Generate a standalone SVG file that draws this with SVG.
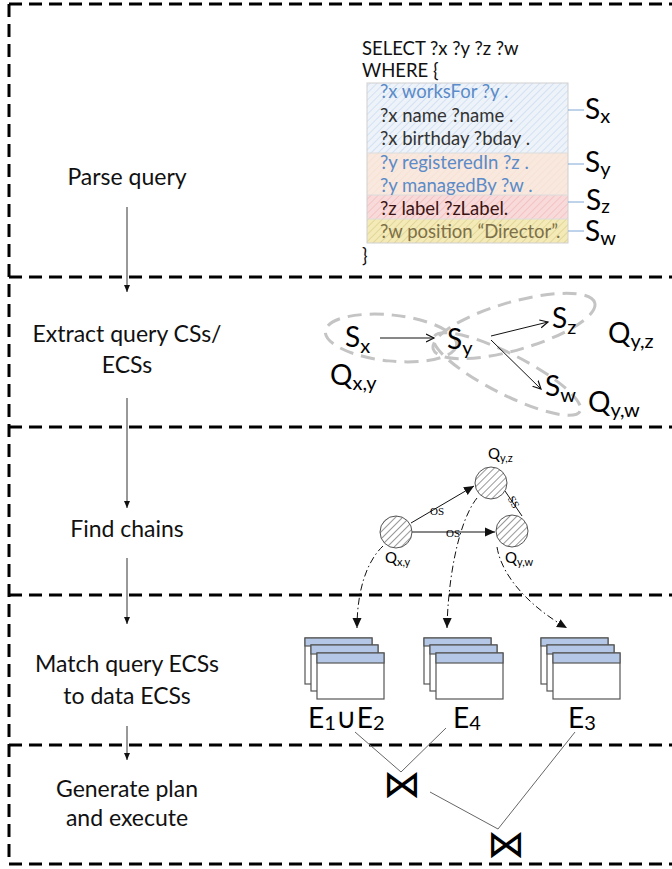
<svg xmlns="http://www.w3.org/2000/svg" width="672" height="869" viewBox="0 0 672 869">
<style>
.sep{stroke:#000;stroke-width:3;stroke-dasharray:13 7;fill:none}
.lbl{font-family:Lato,"Liberation Sans",sans-serif;font-size:23px;fill:#111;text-anchor:middle}
.q{font-family:Lato,"Liberation Sans",sans-serif;font-size:18.5px}
.big{font-family:Lato,"Liberation Sans",sans-serif;font-size:28px;fill:#000}
.sm{font-family:Lato,"Liberation Sans",sans-serif;font-size:15px;fill:#000}
.os{font-family:"Liberation Serif",serif;font-size:11px;fill:#000}
.flow{stroke:#333;stroke-width:1;fill:none}
.ell{fill:none;stroke:#c4c4c4;stroke-width:3;stroke-dasharray:14 8}
.thin{stroke:#111;stroke-width:1;fill:none}
.dd{stroke:#111;stroke-width:1;fill:none;stroke-dasharray:7 3 1.5 3}
.join{stroke:#666;stroke-width:1;fill:none}
.bow{font-family:"DejaVu Sans",sans-serif;font-size:38px;fill:#000;text-anchor:middle}
.conn{stroke:#7ea6d6;stroke-width:1}
.doc{fill:#fff;stroke:#555;stroke-width:1.2}
.hdr{fill:#b4c7e7;stroke:#555;stroke-width:1.2}
.circ{fill:url(#hCirc);stroke:#555;stroke-width:1}
</style>
<defs>
<pattern id="hBlue" patternUnits="userSpaceOnUse" width="5" height="5" patternTransform="rotate(45)"><rect width="5" height="5" fill="#eef3fa"/><line x1="0" y1="0" x2="0" y2="5" stroke="#cbdcf0" stroke-width="1.5"/></pattern>
<pattern id="hPeach" patternUnits="userSpaceOnUse" width="5" height="5" patternTransform="rotate(45)"><rect width="5" height="5" fill="#f9e8de"/><line x1="0" y1="0" x2="0" y2="5" stroke="#f5e0d4" stroke-width="1.5"/></pattern>
<pattern id="hPink" patternUnits="userSpaceOnUse" width="5" height="5" patternTransform="rotate(45)"><rect width="5" height="5" fill="#f9dada"/><line x1="0" y1="0" x2="0" y2="5" stroke="#f2bcbc" stroke-width="1.5"/></pattern>
<pattern id="hYel" patternUnits="userSpaceOnUse" width="5" height="5" patternTransform="rotate(45)"><rect width="5" height="5" fill="#f3eab8"/><line x1="0" y1="0" x2="0" y2="5" stroke="#ddd08e" stroke-width="1.5"/></pattern>
<pattern id="hCirc" patternUnits="userSpaceOnUse" width="5" height="5" patternTransform="rotate(45)"><rect width="5" height="5" fill="#fff"/><line x1="0" y1="0" x2="0" y2="5" stroke="#333" stroke-width="1"/></pattern>
<marker id="ah" markerWidth="8" markerHeight="8" refX="7" refY="4" orient="auto" markerUnits="userSpaceOnUse"><path d="M0,1 L7,4 L0,7 Z" fill="#111"/></marker>
<marker id="av" markerWidth="10" markerHeight="10" refX="8" refY="5" orient="auto" markerUnits="userSpaceOnUse"><path d="M0,1 L8,5 L0,9" fill="none" stroke="#111" stroke-width="1.2"/></marker>
<marker id="af" markerWidth="12" markerHeight="12" refX="10" refY="5" orient="auto" markerUnits="userSpaceOnUse"><path d="M0,0.5 L10,5 L0,9.5 Z" fill="#111"/></marker>
<g id="stack">
<rect class="doc" x="0" y="0" width="67" height="46"/><rect class="hdr" x="0" y="0" width="67" height="8"/>
<rect class="doc" x="6" y="7" width="67" height="46"/><rect class="hdr" x="6" y="7" width="67" height="9"/>
<rect class="doc" x="12" y="15" width="67" height="46"/><rect class="hdr" x="12" y="15" width="67" height="10"/>
</g>
</defs>
<rect width="672" height="869" fill="#fff"/>

<g id="frame">
<path class="sep" d="M9,4 H672 M9,4 V864 H672"/>
<path class="sep" d="M9,277 H672"/>
<path class="sep" d="M9,427 H672"/>
<path class="sep" d="M9,595 H672"/>
<path class="sep" d="M9,745 H672"/>
</g>

<g id="steps">
<text class="lbl" x="127" y="185">Parse query</text>
<text class="lbl" x="127" y="342">Extract query CSs/</text>
<text class="lbl" x="127" y="373">ECSs</text>
<text class="lbl" x="127" y="537">Find chains</text>
<text class="lbl" x="127" y="672">Match query ECSs</text>
<text class="lbl" x="127" y="704">to data ECSs</text>
<text class="lbl" x="127" y="797">Generate plan</text>
<text class="lbl" x="127" y="826">and execute</text>
</g>

<g id="step-arrows">
<line class="flow" x1="127" y1="207" x2="127" y2="292" marker-end="url(#ah)"/>
<line class="flow" x1="127" y1="398" x2="127" y2="508" marker-end="url(#ah)"/>
<line class="flow" x1="127" y1="558" x2="127" y2="624" marker-end="url(#ah)"/>
<line class="flow" x1="127" y1="726" x2="127" y2="760" marker-end="url(#ah)"/>
</g>

<g id="query">
<text class="q" x="362" y="55" fill="#111">SELECT ?x ?y ?z ?w</text>
<text class="q" x="362" y="77" fill="#111">WHERE {</text>
<rect x="367" y="83" width="201" height="70" fill="url(#hBlue)"/>
<rect x="367" y="153" width="201" height="42" fill="url(#hPeach)"/>
<rect x="367" y="195" width="201" height="24" fill="url(#hPink)"/>
<rect x="367" y="219" width="201" height="24" fill="url(#hYel)"/>
<rect x="367" y="83" width="201" height="160" fill="none" stroke="#cfcfcf" stroke-width="1"/>
<line x1="367" y1="153" x2="568" y2="153" stroke="#dcdcdc"/>
<line x1="367" y1="195" x2="568" y2="195" stroke="#dcdcdc"/>
<line x1="367" y1="219" x2="568" y2="219" stroke="#dcdcdc"/>
<text class="q" x="380" y="98" fill="#5b8bc8">?x worksFor ?y .</text>
<text class="q" x="380" y="122" fill="#333">?x name ?name .</text>
<text class="q" x="380" y="145" fill="#333">?x birthday ?bday .</text>
<text class="q" x="380" y="169" fill="#5b8bc8">?y registeredIn ?z .</text>
<text class="q" x="380" y="192" fill="#5b8bc8">?y managedBy ?w .</text>
<text class="q" x="380" y="215" fill="#3a1414">?z label ?zLabel.</text>
<text class="q" x="380" y="238" fill="#7d7048">?w position “Director”.</text>
<text class="q" x="362" y="262" fill="#111">}</text>
<line class="conn" x1="568" y1="110" x2="584" y2="110"/>
<line class="conn" x1="568" y1="164" x2="584" y2="164"/>
<line class="conn" x1="568" y1="202" x2="584" y2="202"/>
<line class="conn" x1="568" y1="231" x2="584" y2="231"/>
<text class="big" x="585" y="119">S<tspan font-size="20" dy="4">x</tspan></text>
<text class="big" x="585" y="172">S<tspan font-size="20" dy="4">y</tspan></text>
<text class="big" x="586" y="210">S<tspan font-size="19" dy="3">z</tspan></text>
<text class="big" x="585" y="241">S<tspan font-size="20" dy="4">w</tspan></text>
</g>

<g id="css">
<ellipse class="ell" cx="391" cy="338" rx="66" ry="23" transform="rotate(6 391 338)"/>
<ellipse class="ell" cx="514" cy="326" rx="84" ry="24" transform="rotate(-16 514 326)"/>
<ellipse class="ell" cx="507" cy="374" rx="82" ry="20" transform="rotate(27 507 374)"/>
<line class="thin" x1="380" y1="338" x2="434" y2="338" marker-end="url(#av)"/>
<line class="thin" x1="491" y1="336" x2="548" y2="322" marker-end="url(#av)"/>
<line class="thin" x1="491" y1="340" x2="541" y2="389" marker-end="url(#av)"/>
<text class="big" x="345" y="347" font-size="30">S<tspan font-size="20" dy="6">x</tspan></text>
<text class="big" x="447" y="349" font-size="30">S<tspan font-size="20" dy="6">y</tspan></text>
<text class="big" x="552" y="328" font-size="30">S<tspan font-size="20" dy="6">z</tspan></text>
<text class="big" x="545" y="396" font-size="30">S<tspan font-size="20" dy="6">w</tspan></text>
<text class="big" x="330" y="385">Q<tspan font-size="20" dy="5">x,y</tspan></text>
<text class="big" x="608" y="343">Q<tspan font-size="20" dy="5">y,z</tspan></text>
<text class="big" x="588" y="412">Q<tspan font-size="20" dy="5">y,w</tspan></text>
</g>

<g id="chains">
<line class="thin" x1="411" y1="523" x2="474" y2="486" marker-end="url(#af)" stroke="#333"/>
<line class="thin" x1="412" y1="532" x2="495" y2="532" marker-end="url(#af)" stroke="#333"/>
<line class="thin" x1="505" y1="491" x2="522" y2="516" stroke="#333"/>
<circle class="circ" cx="396" cy="532" r="16"/>
<circle class="circ" cx="491" cy="483" r="16"/>
<circle class="circ" cx="512" cy="531" r="16"/>
<text class="os" x="437" y="515" text-anchor="middle">OS</text>
<text class="os" x="453" y="537" text-anchor="middle">OS</text>
<text class="os" x="514" y="506" text-anchor="middle" transform="rotate(62 514 502)">SS</text>
<text class="sm" x="488" y="459">Q<tspan font-size="11" dy="3">y,z</tspan></text>
<text class="sm" x="385" y="563">Q<tspan font-size="11" dy="3">x,y</tspan></text>
<text class="sm" x="505" y="563">Q<tspan font-size="11" dy="3">y,w</tspan></text>
<path class="dd" d="M383,546 C366,562 357,592 357,628" marker-end="url(#af)"/>
<path class="dd" d="M477,498 C458,522 448,580 447,628" marker-end="url(#af)"/>
<path class="dd" d="M497,547 C502,578 532,608 567,628" marker-end="url(#af)"/>
</g>

<g id="ecs">
<use href="#stack" x="305" y="638"/>
<use href="#stack" x="424" y="638"/>
<use href="#stack" x="541" y="638"/>
<text class="big" x="308" y="728">E<tspan font-size="20" dy="2">1</tspan><tspan dy="-2">∪E</tspan><tspan font-size="20" dy="2">2</tspan></text>
<text class="big" x="453" y="728">E<tspan font-size="20" dy="2">4</tspan></text>
<text class="big" x="568" y="728">E<tspan font-size="20" dy="2">3</tspan></text>
</g>

<g id="plan">
<path class="join" d="M355,732 L401,772 L446,728"/>
<path class="join" d="M430,792 L498,829 L575,732"/>
<text class="bow" x="402" y="797">⋈</text>
<text class="bow" x="506" y="857">⋈</text>
</g>
</svg>
